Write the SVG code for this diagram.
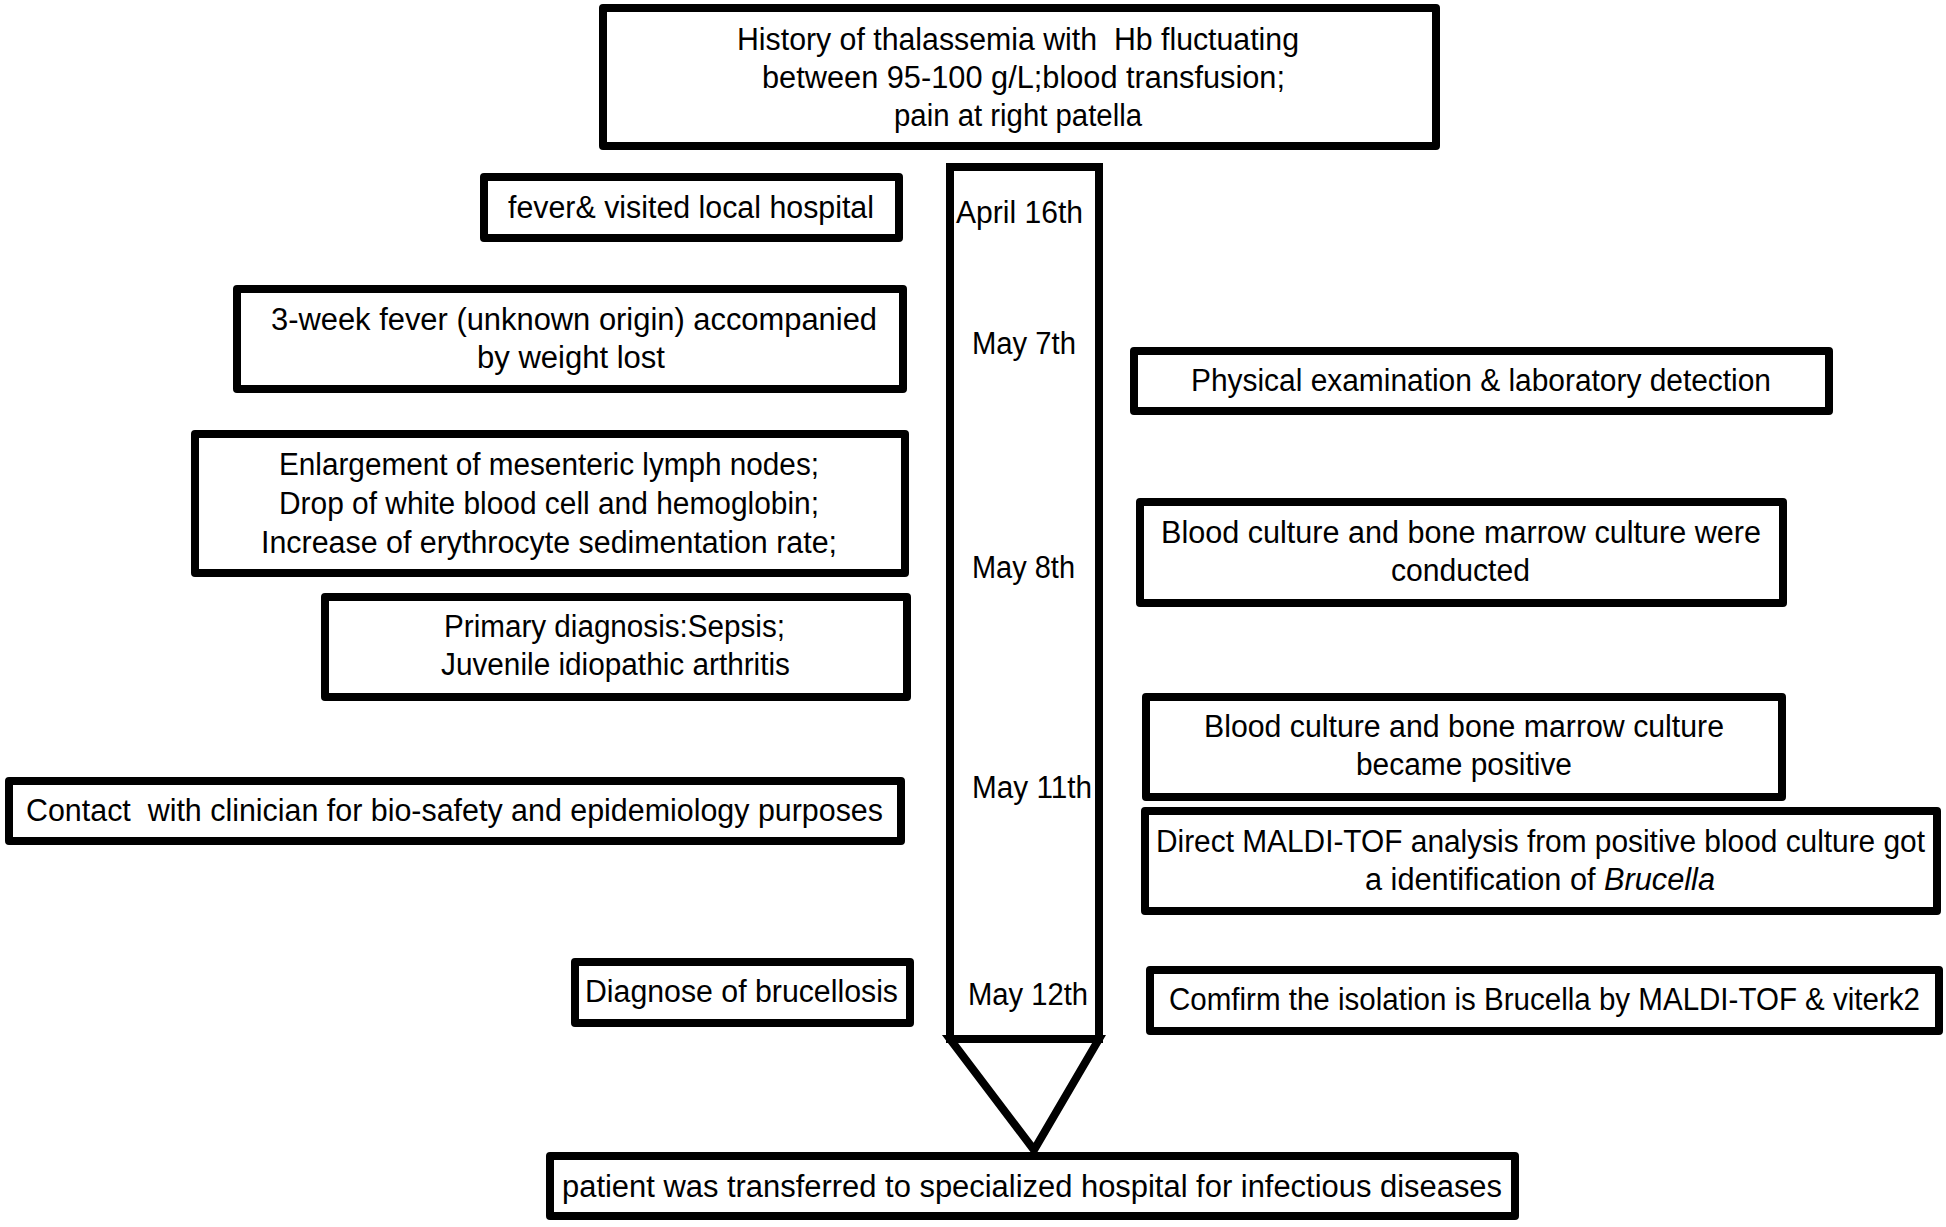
<svg xmlns="http://www.w3.org/2000/svg" width="1946" height="1227" viewBox="0 0 1946 1227">
<style>
.box{fill:#fff;stroke:#000;stroke-width:8;stroke-linejoin:round}
.tl{fill:none;stroke:#000;stroke-width:8;stroke-linejoin:miter}
text{font-family:"Liberation Sans",Arial,sans-serif;font-size:31px;fill:#000;white-space:pre}
</style>
<rect width="1946" height="1227" fill="#fff"/>
<g id="connectors">
<rect class="tl" x="950" y="167" width="149" height="872"/>
<polygon class="tl" points="950,1039 1034,1150 1099,1039"/>
</g>
<g id="dates">
<text x="956" y="223" textLength="127" lengthAdjust="spacingAndGlyphs">April 16th</text>
<text x="972" y="354" textLength="104" lengthAdjust="spacingAndGlyphs">May 7th</text>
<text x="972" y="578" textLength="103" lengthAdjust="spacingAndGlyphs">May 8th</text>
<text x="972" y="798" textLength="120" lengthAdjust="spacingAndGlyphs">May 11th</text>
<text x="968" y="1005" textLength="120" lengthAdjust="spacingAndGlyphs">May 12th</text>
</g>
<g id="history">
<rect class="box" x="603" y="8" width="833" height="138"/>
<text x="737" y="50" textLength="562" lengthAdjust="spacingAndGlyphs">History of thalassemia with  Hb fluctuating</text>
<text x="762" y="88" textLength="523" lengthAdjust="spacingAndGlyphs">between 95-100 g/L;blood transfusion;</text>
<text x="894" y="126" textLength="248" lengthAdjust="spacingAndGlyphs">pain at right patella</text>
</g>
<g id="fever">
<rect class="box" x="484" y="177" width="415" height="61"/>
<text x="508" y="218" textLength="366" lengthAdjust="spacingAndGlyphs">fever&amp; visited local hospital</text>
</g>
<g id="threeweek">
<rect class="box" x="237" y="289" width="666" height="100"/>
<text x="271" y="330" textLength="606" lengthAdjust="spacingAndGlyphs">3-week fever (unknown origin) accompanied</text>
<text x="477" y="368" textLength="188" lengthAdjust="spacingAndGlyphs">by weight lost</text>
</g>
<g id="physical">
<rect class="box" x="1134" y="351" width="695" height="60"/>
<text x="1191" y="391" textLength="580" lengthAdjust="spacingAndGlyphs">Physical examination &amp; laboratory detection</text>
</g>
<g id="enlargement">
<rect class="box" x="195" y="434" width="710" height="139"/>
<text x="279" y="475" textLength="540" lengthAdjust="spacingAndGlyphs">Enlargement of mesenteric lymph nodes;</text>
<text x="279" y="514" textLength="540" lengthAdjust="spacingAndGlyphs">Drop of white blood cell and hemoglobin;</text>
<text x="261" y="553" textLength="576" lengthAdjust="spacingAndGlyphs">Increase of erythrocyte sedimentation rate;</text>
</g>
<g id="primary">
<rect class="box" x="325" y="597" width="582" height="100"/>
<text x="444" y="637" textLength="341" lengthAdjust="spacingAndGlyphs">Primary diagnosis:Sepsis;</text>
<text x="441" y="675" textLength="349" lengthAdjust="spacingAndGlyphs">Juvenile idiopathic arthritis</text>
</g>
<g id="conducted">
<rect class="box" x="1140" y="502" width="643" height="101"/>
<text x="1161" y="543" textLength="600" lengthAdjust="spacingAndGlyphs">Blood culture and bone marrow culture were</text>
<text x="1391" y="581" textLength="139" lengthAdjust="spacingAndGlyphs">conducted</text>
</g>
<g id="positive">
<rect class="box" x="1146" y="697" width="636" height="100"/>
<text x="1204" y="737" textLength="520" lengthAdjust="spacingAndGlyphs">Blood culture and bone marrow culture</text>
<text x="1356" y="775" textLength="216" lengthAdjust="spacingAndGlyphs">became positive</text>
</g>
<g id="contact">
<rect class="box" x="9" y="781" width="892" height="60"/>
<text x="26" y="821" textLength="857" lengthAdjust="spacingAndGlyphs">Contact  with clinician for bio-safety and epidemiology purposes</text>
</g>
<g id="maldi">
<rect class="box" x="1145" y="811" width="792" height="100"/>
<text x="1156" y="852" textLength="769" lengthAdjust="spacingAndGlyphs">Direct MALDI-TOF analysis from positive blood culture got</text>
<text x="1365" y="890" textLength="350" lengthAdjust="spacingAndGlyphs">a identification of <tspan font-style="italic">Brucella</tspan></text>
</g>
<g id="diagnose">
<rect class="box" x="575" y="962" width="335" height="61"/>
<text x="585" y="1002" textLength="313" lengthAdjust="spacingAndGlyphs">Diagnose of brucellosis</text>
</g>
<g id="confirm">
<rect class="box" x="1150" y="970" width="789" height="61"/>
<text x="1169" y="1010" textLength="751" lengthAdjust="spacingAndGlyphs">Comfirm the isolation is Brucella by MALDI-TOF &amp; viterk2</text>
</g>
<g id="transfer">
<rect class="box" x="550" y="1156" width="965" height="60"/>
<text x="562" y="1197" textLength="940" lengthAdjust="spacingAndGlyphs">patient was transferred to specialized hospital for infectious diseases</text>
</g>
</svg>
